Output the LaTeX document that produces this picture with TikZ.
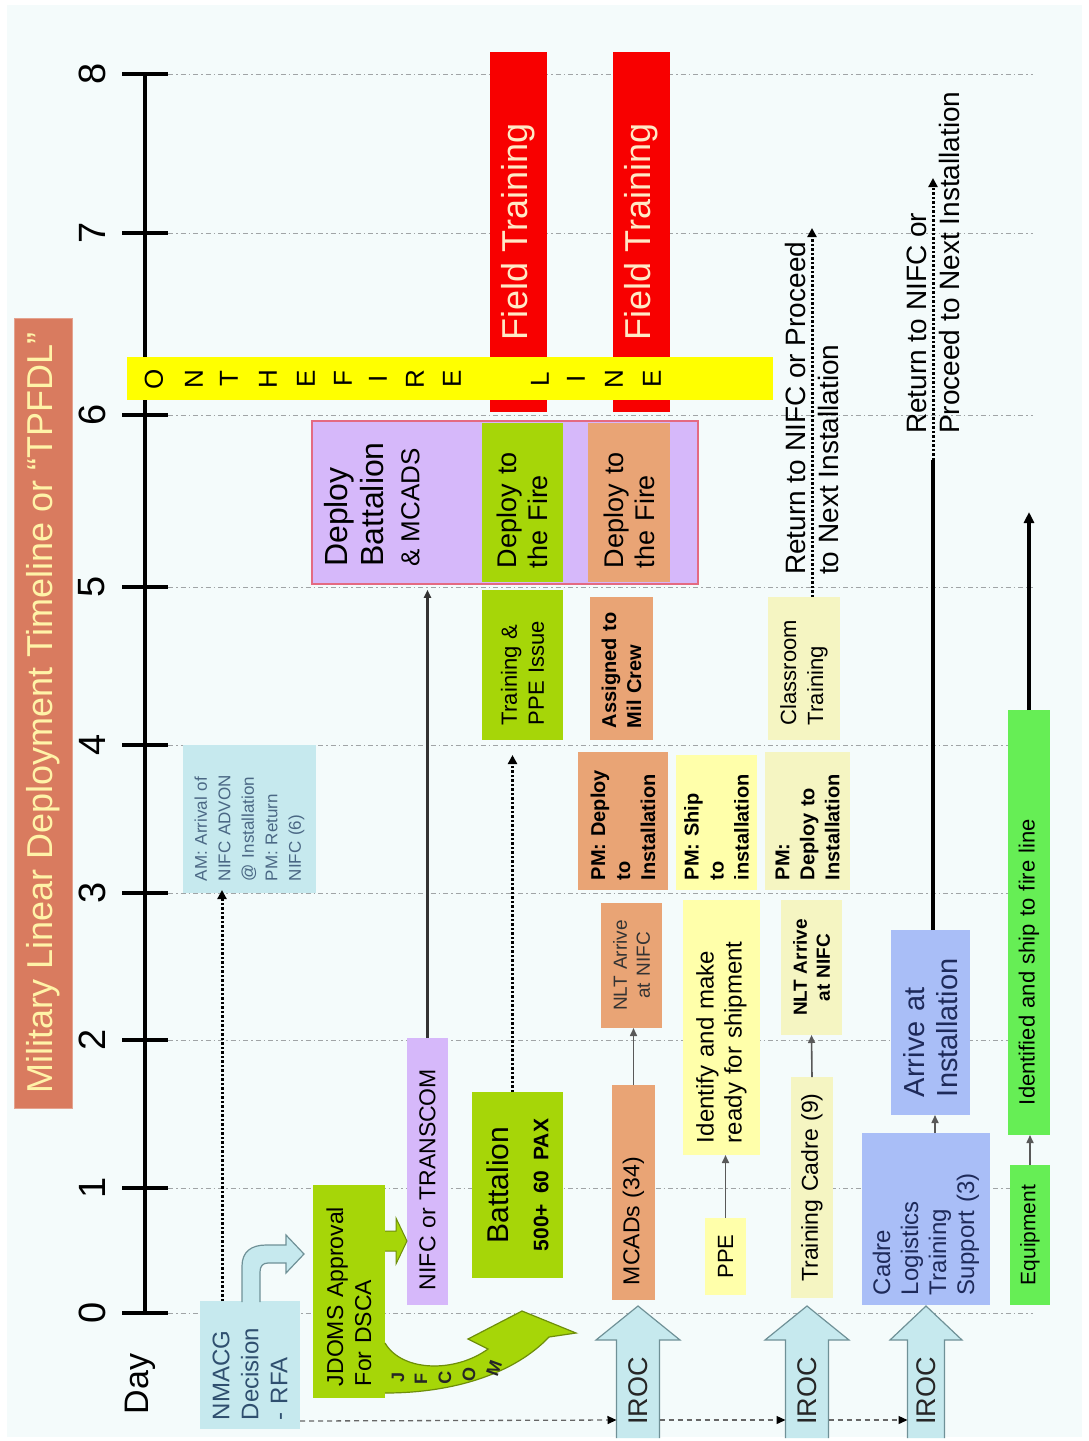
\documentclass[tikz,border=0pt]{standalone}
\usepackage{fontspec}
\setmainfont{Liberation Sans}
\usetikzlibrary{arrows.meta,calc}
\definecolor{bgc}{HTML}{F4FBFB}
\definecolor{titlec}{HTML}{D97B5F}
\definecolor{titletx}{HTML}{FFF3A8}
\definecolor{cyanl}{HTML}{C6E9EE}
\definecolor{cyand}{HTML}{6F9197}
\definecolor{ygreen}{HTML}{A6D608}
\definecolor{ygreend}{HTML}{6E8E0A}
\definecolor{lav}{HTML}{D6B8FA}
\definecolor{lavborder}{HTML}{E46A82}
\definecolor{redf}{HTML}{F80000}
\definecolor{ftx}{HTML}{FFE9C6}
\definecolor{bannerc}{HTML}{FFFF00}
\definecolor{orng}{HTML}{E9A475}
\definecolor{lyel}{HTML}{FFFFAA}
\definecolor{pyel}{HTML}{F5F5C2}
\definecolor{blu}{HTML}{A9BEF7}
\definecolor{grn}{HTML}{66EE55}
\definecolor{gridc}{HTML}{A0A4A6}
\definecolor{slate}{HTML}{2F4F6F}
\definecolor{amtx}{HTML}{4A6784}
\definecolor{navy}{HTML}{1E2A5A}
\newcommand\myfs[2]{\fontsize{#1}{#2}\selectfont}
\begin{document}
\begin{tikzpicture}[x=1pt,y=-1pt,
  box/.style={rotate=90, inner ysep=0pt, outer sep=0pt, draw=none},
  dotarr/.style={line width=3pt, dash pattern=on 2.5pt off 2pt, -{Triangle[length=9pt,width=9pt]}},
  solarr/.style={line width=1.8pt, draw=black!75, -{Triangle[length=8pt,width=7pt]}},
  thickarr/.style={line width=3.5pt, -{Triangle[length=11pt,width=10pt]}},
  dashc/.style={draw=black!60, line width=1.3pt, dash pattern=on 5pt off 4pt, -{Triangle[length=9pt,width=8pt,color=black]}},
  gridl/.style={gridc, line width=1pt, dash pattern=on 5pt off 3pt on 1.5pt off 3pt}
]
\useasboundingbox (0,0) rectangle (1089,1441);
\fill[white] (0,0) rectangle (1089,1441);
\fill[bgc] (7,5) rectangle (1082,1437);

% title
\node[box, fill=titlec, draw=titlec!70!white, line width=1pt, minimum width=790pt, minimum height=58pt, text=titletx, font=\myfs{36}{40}] (title) at (43,713) {Military Linear Deployment Timeline or “TPFDL”};

% gridlines
\foreach \yy in {74,233,415,587,745,893,1040,1188,1313}
  \draw[gridl] (168,\yy) -- (1033,\yy);

% axis
\coordinate (ax0) at (145,1313);
\coordinate (ax8) at (145,74);
\draw[line width=4.5pt] (ax0) -- (ax8);
\foreach \d/\yy in {0/1313,1/1188,2/1040,3/893,4/745,5/587,6/415,7/233,8/74} {
  \draw[line width=4.5pt] (122,\yy) -- (168,\yy);
  \node[rotate=90, font=\myfs{38}{40}] (t\d) at (92,\yy) {\d};
}
\node[rotate=90, font=\myfs{34}{38}] (day) at (140,1384) {Day};

% field training
\node[box, fill=redf, minimum width=360pt, minimum height=57pt, text=ftx, font=\myfs{36}{40}] (ft1) at (518.5,232) {Field Training};
\node[box, fill=redf, minimum width=360pt, minimum height=57pt, text=ftx, font=\myfs{36}{40}] (ft2) at (641.5,232) {Field Training};

% banner
\node[fill=bannerc, minimum width=646pt, minimum height=43pt, inner sep=0pt] (banner) at (450,378.5) {};
\foreach \xx/\ch [count=\i] in {154/O,194/N,229/T,268/H,306/E,343/F,378/I,415/R,452/E,540/L,576/I,614/N,652/E}
  \node[rotate=90, font=\myfs{26}{28}] (bl\i) at (\xx,379) {\ch};

% deploy big box
\node[fill=lav, draw=lavborder, line width=1.5pt, minimum width=386pt, minimum height=163pt, inner sep=0pt] (deploy) at (505,502.5) {};
\node[rotate=90, anchor=north west, align=left, inner sep=0pt, font=\myfs{32}{36}] (deptxt) at (324,567) {Deploy\\Battalion\\{\myfs{26}{34}\& MCADS}};
\node[box, fill=ygreen, minimum width=159pt, minimum height=81pt, text width=131pt, inner xsep=14pt, align=left, font=\myfs{27}{31}] (dfire1) at (522.5,502.5) {Deploy to\\the Fire};
\node[box, fill=orng, minimum width=159pt, minimum height=82pt, text width=131pt, inner xsep=14pt, align=left, font=\myfs{27}{31}] (dfire2) at (629,502.5) {Deploy to\\the Fire};

% NMACG / AM
\node[box, fill=cyanl, minimum width=128pt, minimum height=100pt, text width=110pt, inner xsep=9pt, align=left, text=slate, font=\myfs{24}{29}] (nmacg) at (250,1365) {NMACG\\Decision\\- RFA};
\node[box, fill=cyanl, minimum width=148pt, minimum height=133pt, text width=124pt, inner xsep=12pt, align=left, text=amtx, font=\myfs{17}{23.5}] (am) at (249.5,819) {AM: Arrival of\\NIFC ADVON\\@ Installation\\PM: Return\\NIFC (6)};

% JDOMS, NIFC, Battalion, Training
\node[box, fill=ygreen, minimum width=213pt, minimum height=72pt, text width=189pt, inner xsep=12pt, align=left, font=\myfs{23}{28}] (jdoms) at (349,1291.5) {JDOMS Approval\\For DSCA};
\node[box, fill=lav, minimum width=267pt, minimum height=41pt, text width=237pt, inner xsep=15pt, align=left, font=\myfs{23}{26}] (nifc) at (427.5,1171.5) {NIFC or TRANSCOM};
\node[box, fill=ygreen, minimum width=186pt, minimum height=91pt, text width=170pt, inner xsep=8pt, align=center, font=\myfs{30}{34}] (batt) at (517.5,1185) {Battalion\\[6pt]{\myfs{21}{24}\bfseries 500+ 60 PAX}};
\node[box, fill=ygreen, minimum width=150pt, minimum height=81pt, text width=120pt, inner xsep=15pt, align=left, font=\myfs{22}{27}] (trppe) at (522.5,665) {Training \&\\PPE Issue};

% MCADs column
\node[box, fill=orng, minimum width=215pt, minimum height=43pt, text width=185pt, inner xsep=15pt, align=left, font=\myfs{23}{26}] (mcads) at (633.5,1192.5) {MCADs (34)};
\node[box, fill=orng, minimum width=125pt, minimum height=61pt, text width=109pt, inner xsep=8pt, align=center, text=black!80, font=\myfs{19}{23}] (nlt1) at (631.5,965.5) {NLT Arrive\\at NIFC};
\node[box, fill=orng, minimum width=138pt, minimum height=90pt, text width=118pt, inner xsep=10pt, align=left, font=\bfseries\myfs{20}{25}] (pmdep1) at (623,821) {PM: Deploy\\to\\Installation};
\node[box, fill=orng, minimum width=143pt, minimum height=63pt, text width=119pt, inner xsep=12pt, align=left, font=\bfseries\myfs{20}{25}] (assign) at (621.5,668.5) {Assigned to\\Mil Crew};

% PPE column
\node[box, fill=lyel, minimum width=77pt, minimum height=41pt, font=\myfs{22}{24}] (ppe) at (725.5,1256.5) {PPE};
\node[box, fill=lyel, minimum width=255pt, minimum height=77pt, text width=231pt, inner xsep=12pt, align=left, font=\myfs{24}{28}] (ident) at (721.5,1027.5) {Identify and make\\ready for shipment};
\node[box, fill=lyel, minimum width=135pt, minimum height=81pt, text width=115pt, inner xsep=10pt, align=left, font=\bfseries\myfs{20}{25}] (pmship) at (716.5,822.5) {PM: Ship\\to\\installation};

% Training cadre column
\node[box, fill=pyel, minimum width=221pt, minimum height=42pt, text width=205pt, inner xsep=8pt, align=center, font=\myfs{23}{26}] (tcadre) at (812,1187.5) {Training Cadre (9)};
\node[box, fill=pyel, minimum width=135pt, minimum height=61pt, text width=119pt, inner xsep=8pt, align=center, font=\bfseries\myfs{19}{23}] (nlt2) at (811.5,967.5) {NLT Arrive\\at NIFC};
\node[box, fill=pyel, minimum width=138pt, minimum height=85pt, text width=118pt, inner xsep=10pt, align=left, font=\bfseries\myfs{20}{25}] (pmdep2) at (807.5,821) {PM:\\Deploy to\\Installation};
\node[box, fill=pyel, minimum width=143pt, minimum height=72pt, text width=113pt, inner xsep=15pt, align=left, font=\myfs{22}{27}] (class) at (804,668.5) {Classroom\\Training};

% Cadre / arrive
\node[box, fill=blu, minimum width=172pt, minimum height=128pt, text width=152pt, inner xsep=10pt, align=left, text=navy, font=\myfs{24}{28}] (cadre) at (926,1219) {Cadre\\Logistics\\Training\\Support (3)};
\node[box, fill=blu, minimum width=185pt, minimum height=79pt, text width=149pt, inner xsep=18pt, align=left, text=navy, font=\myfs{29}{33}] (arrive) at (930.5,1022.5) {Arrive at\\Installation};

% Equipment
\node[box, fill=grn, minimum width=140pt, minimum height=40pt, font=\myfs{21}{24}] (equip) at (1030,1235) {Equipment};
\node[box, fill=grn, minimum width=425pt, minimum height=42pt, text width=365pt, inner xsep=30pt, align=left, font=\myfs{22}{25}] (idship) at (1029,922.5) {Identified and ship to fire line};

% return texts
\node[rotate=90, anchor=west, align=left, inner sep=0pt, font=\myfs{28}{33}] (ret1) at (812,575) {Return to NIFC or Proceed\\to Next Installation};
\node[rotate=90, anchor=west, align=left, inner sep=0pt, font=\myfs{28}{33}] (ret2) at (933,434) {Return to NIFC or\\Proceed to Next Installation};

% NMACG curved block arrow
\fill[cyanl] (242,1302) -- (242,1266) .. controls (242,1252) and (251,1245) .. (266,1245) -- (286,1245) -- (286,1235) -- (304,1254) -- (286,1273) -- (286,1263) -- (268,1263) .. controls (263,1263) and (260,1266) .. (260,1272) -- (260,1302) -- cycle;
\draw[cyand, line width=1.2pt] (242,1302) -- (242,1266) .. controls (242,1252) and (251,1245) .. (266,1245) -- (286,1245) -- (286,1235) -- (304,1254) -- (286,1273) -- (286,1263) -- (268,1263) .. controls (263,1263) and (260,1266) .. (260,1272) -- (260,1302);

% JDOMS -> NIFC block arrow
\fill[ygreen] (385,1231) -- (396,1231) -- (396,1218) -- (407,1241) -- (396,1264) -- (396,1251) -- (385,1251) -- cycle;
\draw[ygreend, line width=1pt] (385,1231) -- (396,1231) -- (396,1218) -- (407,1241) -- (396,1264) -- (396,1251) -- (385,1251);

% JFCOM curved arrow
\fill[ygreen] (385,1343) .. controls (402,1372) and (455,1373) .. (488,1349) -- (468,1339) -- (522,1311) -- (576,1333) -- (549,1337) .. controls (515,1373) and (455,1393) .. (385,1393) -- cycle;
\draw[ygreend, line width=1.2pt] (385,1343) .. controls (402,1372) and (455,1373) .. (488,1349) -- (468,1339) -- (522,1311) -- (576,1333) -- (549,1337) .. controls (515,1373) and (455,1393) .. (385,1393);
\foreach \xx/\yy/\ch/\rr [count=\i] in {398/1377/J/90, 421/1379/F/90, 445/1378/C/88, 469/1375/O/80, 494/1368/M/70}
  \node[rotate=\rr, font=\bfseries\myfs{18}{19}, text=black!85] (jf\i) at (\xx,\yy) {\ch};

% IROC block arrows
\foreach \n/\cx/\sw/\hw in {1/638/21.5/42, 2/807/21.5/42, 3/926/18.5/36} {
  \draw[fill=cyanl, draw=cyand, line width=1.2pt] (\cx-\sw,1438) -- (\cx-\sw,1340) -- (\cx-\hw,1340) -- (\cx,1306) -- (\cx+\hw,1340) -- (\cx+\sw,1340) -- (\cx+\sw,1438);
  \node[rotate=90, font=\myfs{27}{30}, text=black!85] (iroc\n) at (\cx,1391) {IROC};
  \coordinate (iroc\n w) at (\cx-\sw,1420);
  \coordinate (iroc\n e) at (\cx+\sw,1420);
}
\draw[dashc] ([yshift=8pt]nmacg.south west) -- (iroc1w);
\draw[dashc] (iroc1e) -- (iroc2w);
\draw[dashc] (iroc2e) -- (iroc3w);

% connectors
\coordinate (d1s) at ([xshift=-28pt]nmacg.east);
\coordinate (d1e) at (d1s |- am.west);
\draw[dotarr, shorten >=-3pt] (d1s) -- (d1e);

\coordinate (d2s) at ([xshift=-5pt]batt.east);
\coordinate (d2e) at (d2s |- trppe.west);
\draw[dotarr, shorten >=15pt] (d2s) -- (d2e);

\draw[solarr, line width=2.4pt, draw=black!80, shorten >=5pt] (nifc.east) -- (nifc.east |- deploy.south);
\draw[solarr, line width=1.6pt, draw=black!65] (mcads.east) -- (mcads.east |- nlt1.west);
\draw[solarr, line width=1.6pt, draw=black!65] (ppe.east) -- (ppe.east |- ident.west);
\draw[solarr, line width=1.6pt, draw=black!65] (tcadre.east) -- (nlt2.west);
\coordinate (cs) at ([xshift=9pt]cadre.east);
\draw[solarr, line width=1.6pt, draw=black!65] (cs) -- (cs |- arrive.west);
\draw[solarr, line width=1.6pt, draw=black!65] (equip.east) -- (equip.east |- idship.west);

\coordinate (r1s) at ([xshift=8pt]class.east);
\coordinate (r1e) at (812,228);
\draw[dotarr] (r1s) -- (r1e);

\coordinate (a1s) at ([xshift=2.5pt]arrive.east);
\coordinate (a1m) at (933,460);
\coordinate (a1e) at (933,178);
\draw[line width=3.5pt] (a1s) -- (a1m);
\draw[dotarr] (a1m) -- (a1e);

\coordinate (idend) at (1029,512);
\draw[thickarr] (idship.east) -- (idend);
\end{tikzpicture}
\end{document}
